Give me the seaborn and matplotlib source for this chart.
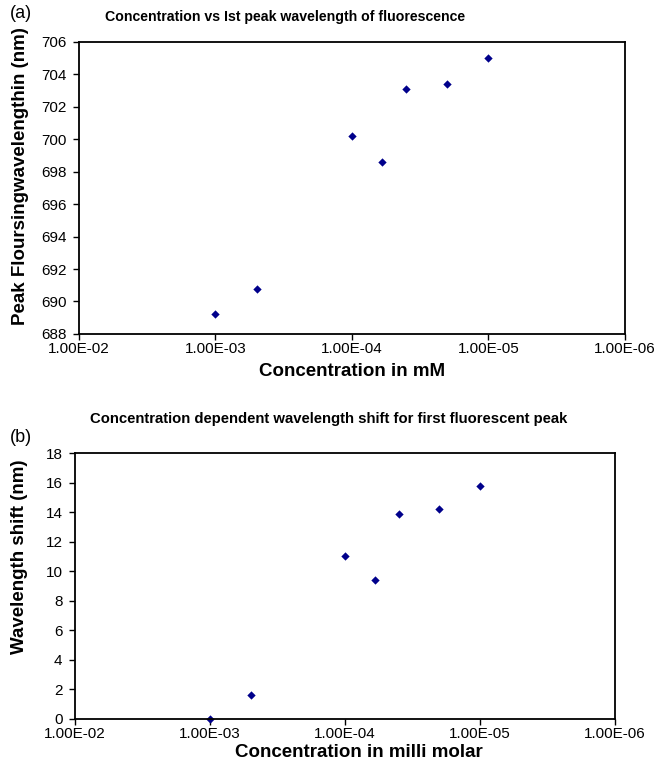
import numpy as np
import pandas as pd
import matplotlib
matplotlib.use("Agg")
import matplotlib.pyplot as plt
import matplotlib.ticker as mticker
import seaborn as sns

# Datos
concentracion = [1e-3, 5e-4, 1e-4, 6e-5, 4e-5, 2e-5, 1e-5]
pico_nm = [689.2, 690.8, 700.2, 698.6, 703.1, 703.4, 705.0]
desplazamiento_nm = [0.0, 1.6, 11.0, 9.4, 13.9, 14.2, 15.8]
x_ticks = [1e-2, 1e-3, 1e-4, 1e-5, 1e-6]
x_ticklabels = ["1.00E-02", "1.00E-03", "1.00E-04", "1.00E-05", "1.00E-06"]

sns.set_style("white", {"text.color": "black", "axes.labelcolor": "black",
                        "xtick.color": "black", "ytick.color": "black"})
plt.rcParams["font.family"] = ["Liberation Sans", "DejaVu Sans"]

df_a = pd.DataFrame({"conc": concentracion, "valor": pico_nm})
df_b = pd.DataFrame({"conc": concentracion, "valor": desplazamiento_nm})

fig = plt.figure(figsize=(6.65, 7.63), dpi=100)
ax_a = fig.add_axes([0.1188, 0.5623, 0.8210, 0.3830])
ax_b = fig.add_axes([0.1128, 0.0581, 0.8120, 0.3478])


def estilo(ax, ylim, yticks):
    ax.set_xscale("log")
    ax.set_xlim(1e-2, 1e-6)
    ax.set_ylim(*ylim)
    ax.set_xticks(x_ticks)
    ax.xaxis.set_major_formatter(mticker.FixedFormatter(x_ticklabels))
    ax.xaxis.set_minor_locator(mticker.NullLocator())
    ax.set_yticks(yticks)
    ax.tick_params(axis="both", direction="out", length=4, width=1,
                   labelsize=11, color="black", labelcolor="black",
                   bottom=True, left=True)
    ax.tick_params(axis="x", pad=2)
    ax.tick_params(axis="y", pad=5)
    for s in ax.spines.values():
        s.set_color("black")
        s.set_linewidth(1.3)


sns.scatterplot(data=df_a, x="conc", y="valor", ax=ax_a, marker="D",
                color="#00008B", s=18, linewidth=0)
estilo(ax_a, (688, 706), np.arange(688, 707, 2))
ax_a.set_title("Concentration vs Ist peak wavelength of fluorescence",
               fontsize=10.2, fontweight="bold", pad=15, x=0.377)
ax_a.set_xlabel("Concentration in mM", fontsize=13.5, fontweight="bold")
ax_a.set_ylabel("Peak Floursingwavelengthin (nm)", fontsize=13.5, fontweight="bold")
ax_a.xaxis.set_label_coords(0.5, -0.098)
ax_a.yaxis.set_label_coords(-0.092, 0.54)

sns.scatterplot(data=df_b, x="conc", y="valor", ax=ax_b, marker="D",
                color="#00008B", s=18, linewidth=0, clip_on=False)
estilo(ax_b, (0, 18), np.arange(0, 19, 2))
ax_b.set_title("Concentration dependent wavelength shift for first fluorescent peak",
               fontsize=10.7, fontweight="bold", pad=22, x=0.47)
ax_b.set_xlabel("Concentration in milli molar", fontsize=13.5, fontweight="bold")
ax_b.set_ylabel("Wavelength shift (nm)", fontsize=13.5, fontweight="bold")
ax_b.xaxis.set_label_coords(0.525, -0.096)
ax_b.yaxis.set_label_coords(-0.087, 0.61)

fig.text(0.015, 0.982, "(a)", fontsize=13, va="center", ha="left")
fig.text(0.015, 0.426, "(b)", fontsize=13, va="center", ha="left")

fig.savefig("out.png", dpi=100)
